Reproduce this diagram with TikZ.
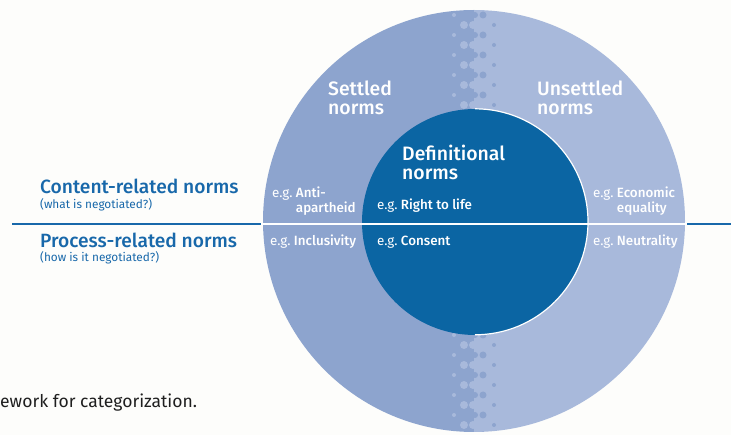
\documentclass[tikz,border=0pt]{standalone}
\usepackage{fontspec}
\setmainfont{Fira Sans}[BoldFont={Fira Sans Medium}]
\usepackage{xcolor}
\usepackage{tikz}
\usetikzlibrary{positioning}
\definecolor{normblue}{RGB}{24,104,170}
\definecolor{settledblue}{RGB}{141,164,206}
\definecolor{unsettledblue}{RGB}{168,185,219}
\definecolor{coreblue}{RGB}{11,101,163}
\definecolor{paper}{RGB}{253,253,251}
\newcommand{\eg}{{\mdseries e.g.}}
\newcommand{\egtwo}[2]{\begin{tabular}[t]{@{}l@{\ }l@{}}\eg&#1\\&#2\end{tabular}}
\newcommand{\twoline}[2]{\begin{tabular}[t]{@{}l@{}}#1\\#2\end{tabular}}

\begin{document}
\begin{tikzpicture}[x=1pt,y=-1pt,
  axislbl/.style={anchor=base west,inner sep=0pt,text=normblue,
                  font=\bfseries\fontsize{19.2}{21}\selectfont},
  axisnote/.style={anchor=base west,inner sep=0pt,text=normblue,
                   font=\fontsize{11.8}{13}\selectfont},
  ringlbl/.style={anchor=base west,inner sep=0pt,text=white,
                  font=\bfseries\fontsize{19.4}{19}\selectfont},
  egbox/.style={anchor=base west,inner sep=0pt,text=white,
                font=\bfseries\fontsize{13.4}{12}\selectfont},
  axisline/.style={normblue,line width=2pt},
  splitline/.style={white,line width=2pt}
]
\useasboundingbox (0,0) rectangle (731,435);
\fill[paper] (0,0) rectangle (731,435);

% outer ring, two halves with a halftone seam
\begin{scope}
  \clip (474,221) circle (211pt);
  \fill[settledblue] (0,0) rectangle (474,435);
  \fill[unsettledblue] (474,0) rectangle (731,435);
  \foreach \k in {0,...,21}{
    \fill[unsettledblue] (454,{15+20*\k}) circle (2pt);
    \fill[unsettledblue] (464,{5+20*\k}) circle (4pt);
    \fill[unsettledblue] (473,{5+20*\k}) circle (4pt);
    \fill[settledblue] (475,{15+20*\k}) circle (3pt);
    \fill[settledblue] (483,{15+20*\k}) circle (3.5pt);
    \fill[settledblue] (494,{5+20*\k}) circle (2pt);
  }
\end{scope}

% core circle
\node[circle,fill=coreblue,minimum size=226pt,inner sep=0pt] (core) at (475,222) {};
\draw[white,line width=1.2pt] (core.north) arc[start angle=90,end angle=-90,radius=113pt];

% content / process split
\coordinate (axis west) at (12,224);
\coordinate (axis east) at (731,224);
\coordinate (ring west) at (261,224);
\coordinate (ring east) at (687,224);
\draw[axisline] (axis west) -- (axis east);
\draw[splitline] (ring west) -- (ring east);

\node[axislbl] (content) at (40,194) {Content-related norms};
\node[axisnote] (content note) at ([yshift=-15pt]content.base west) {(what is negotiated?)};
\node[axislbl] (process) at (40,248) {Process-related norms};
\node[axisnote] (process note) at ([yshift=-14pt]process.base west) {(how is it negotiated?)};

\node[ringlbl] (settled) at (328,96) {\twoline{Settled}{norms}};
\node[ringlbl] (unsettled) at (537,96) {\twoline{Unsettled}{norms}};
\node[ringlbl] (definitional) at (402,161) {\twoline{Definitional}{norms}};

\node[egbox] (anti) at (272,198) {\egtwo{Anti-}{apartheid}};
\node[egbox] (life) at (377,210) {\eg\ Right to life};
\node[egbox] (economic) at (593,198) {\egtwo{Economic}{equality}};
\node[egbox] (inclusivity) at (270,246) {\eg\ Inclusivity};
\node[egbox] (consent) at (377,246) {\eg\ Consent};
\node[egbox] (neutrality) at (593,246) {\eg\ Neutrality};

\node[anchor=base west,inner sep=0pt,text=black!88,font=\fontsize{17.5}{19}\selectfont]
  (caption) at (0,408) {ework for categorization.};
\end{tikzpicture}
\end{document}
